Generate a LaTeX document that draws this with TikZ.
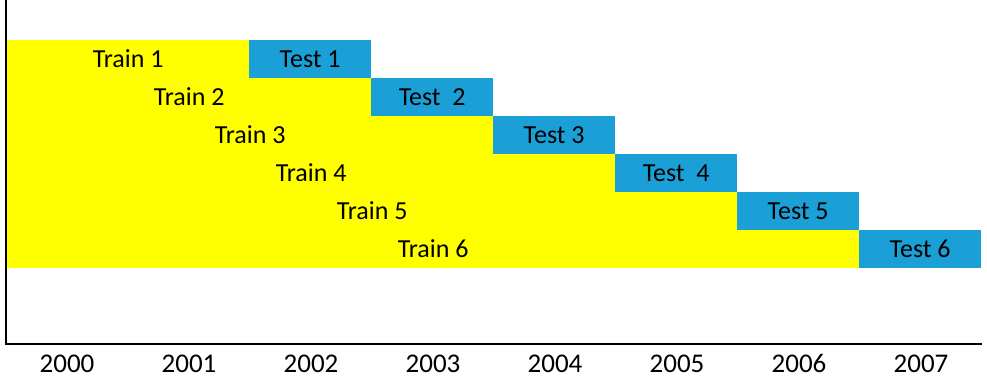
\documentclass[tikz,border=0pt]{standalone}
\usepackage{fontspec}
\setmainfont{Carlito}
\definecolor{trainyellow}{HTML}{FFFF00}
\definecolor{testblue}{HTML}{1A9FD6}
\begin{document}
\begin{tikzpicture}[x=1pt,y=-1pt,
  lbl/.style={font=\fontsize{26}{30}\selectfont, text=black, inner sep=0pt, text height=16.6pt, text depth=0pt},
  yearlbl/.style={lbl, font=\fontsize{27}{32}\selectfont, text height=17.3pt},
  trainbar/.style={fill=trainyellow, draw=none, anchor=north west, minimum height=38pt, inner sep=0pt, lbl},
  testbar/.style={fill=testblue, draw=none, anchor=north west, minimum width=122pt, minimum height=38pt, inner sep=0pt, lbl},
  axisline/.style={black, line width=1.3pt}]
\useasboundingbox (0,0) rectangle (987,385);
\foreach \i/\t in {0/Train 1,1/Train 2,2/Train 3,3/Train 4,4/Train 5,5/Train 6}{
  \node[trainbar, minimum width={242+122*\i}] (train\i) at (7,{40+38*\i}) {\t};
}
\node[testbar] (test0) at (249,40) {Test 1};
\node[testbar] (test1) at (371,78) {Test\ \ 2};
\node[testbar] (test2) at (493,116) {Test 3};
\node[testbar] (test3) at (615,154) {Test\ \ 4};
\node[testbar] (test4) at (737,192) {Test 5};
\node[testbar] (test5) at (859,230) {Test 6};
\coordinate (top) at (6,0);
\coordinate (origin) at (6,344);
\coordinate (right) at (982,344);
\draw[axisline] (top) -- (origin) -- (right);
\foreach \k/\y in {0/2000,1/2001,2/2002,3/2003,4/2004,5/2005,6/2006,7/2007}{
  \node[yearlbl] (year\k) at ({67+122*\k},364) {\y};
}
\end{tikzpicture}
\end{document}
